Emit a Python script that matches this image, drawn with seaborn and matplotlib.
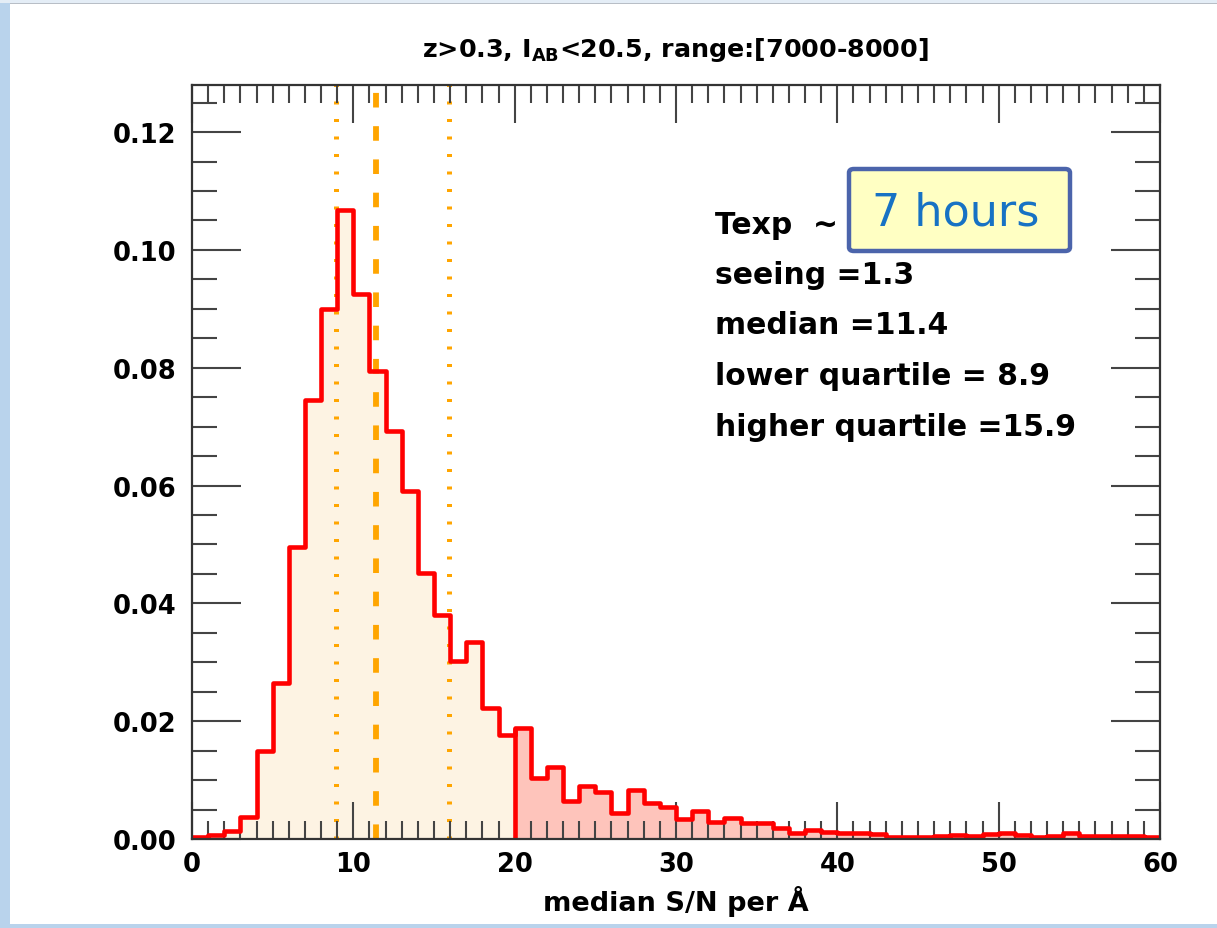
import numpy as np
import pandas as pd
import matplotlib
matplotlib.use("Agg")
import matplotlib.pyplot as plt
import seaborn as sns
from matplotlib.patches import Rectangle, FancyBboxPatch
from matplotlib.ticker import MultipleLocator, FormatStrFormatter

# ---------------- data ----------------
sn_bin_edges = list(range(0, 61))
fractions = [
    0.0003, 0.0006, 0.0013, 0.0038, 0.0150, 0.0265, 0.0495, 0.0745, 0.0900, 0.1068,
    0.0925, 0.0795, 0.0692, 0.0590, 0.0452, 0.0380, 0.0303, 0.0335, 0.0222, 0.0177,
    0.0188, 0.0103, 0.0123, 0.0065, 0.0090, 0.0079, 0.0044, 0.0083, 0.0061, 0.0055,
    0.0034, 0.0047, 0.0029, 0.0036, 0.0027, 0.0027, 0.0019, 0.0011, 0.0016, 0.0012,
    0.0011, 0.0010, 0.0009, 0.0003, 0.0004, 0.0004, 0.0005, 0.0006, 0.0005, 0.0009,
    0.0010, 0.0006, 0.0004, 0.0005, 0.0010, 0.0005, 0.0005, 0.0005, 0.0005, 0.0003,
]
lower_quartile = 8.9
median_sn = 11.4
higher_quartile = 15.9
split_sn = 20
seeing = 1.3
texp_label = "7 hours"

title = r"z>0.3, I$_{\mathregular{AB}}$<20.5, range:[7000-8000]"
xlabel = "median S/N per Å"
stats_lines = [
    "Texp  ~",
    f"seeing ={seeing}",
    f"median ={median_sn}",
    f"lower quartile = {lower_quartile}",
    f"higher quartile ={higher_quartile}",
]

edges_arr = np.array(sn_bin_edges, dtype=float)
centers = (edges_arr[:-1] + edges_arr[1:]) / 2
df = pd.DataFrame({"sn": centers, "frac": fractions})
low = df[df["sn"] < split_sn]
high = df[df["sn"] >= split_sn]

# ---------------- style ----------------
sns.set_style("ticks")
plt.rcParams["font.family"] = ["DejaVu Sans"]
plt.rcParams["font.weight"] = "bold"
plt.rcParams["mathtext.default"] = "regular"
plt.rcParams["text.color"] = "black"
plt.rcParams["axes.labelcolor"] = "black"
plt.rcParams["axes.axisbelow"] = False

W, H = 1217, 929
fig = plt.figure(figsize=(W / 100, H / 100), dpi=100, facecolor="white")


def fx(x):
    return x / W


def fy(y):
    return 1 - y / H


# slide frame
frame_blue = "#b9d3ec"
fig.patches.append(Rectangle((0, 0), fx(10), 1, transform=fig.transFigure,
                             facecolor=frame_blue, edgecolor="none", zorder=-5))
fig.patches.append(Rectangle((0, 0), 1, fy(925), transform=fig.transFigure,
                             facecolor=frame_blue, edgecolor="none", zorder=-5))
fig.patches.append(Rectangle((0, fy(4)), 1, 1 - fy(4), transform=fig.transFigure,
                             facecolor="#e4edf6", edgecolor="none", zorder=-5))
fig.patches.append(Rectangle((fx(10), fy(5)), 1, fy(4) - fy(5), transform=fig.transFigure,
                             facecolor="#b8bec6", edgecolor="none", zorder=-5))

ax = fig.add_axes([fx(192), fy(840), fx(1160) - fx(192), fy(86) - fy(840)])
ax.set_facecolor("white")
ax.set_axisbelow(False)

# fills
sns.histplot(data=low, x="sn", weights="frac", bins=sn_bin_edges[:split_sn + 1],
             element="step", fill=True, color="#fdf3e3", alpha=1, linewidth=0, ax=ax)
sns.histplot(data=high, x="sn", weights="frac", bins=sn_bin_edges[split_sn:],
             element="step", fill=True, color="#fec4bb", alpha=1, linewidth=0, ax=ax)

# quartile / median lines
orange = "#ffa500"
ax.axvline(lower_quartile, color=orange, lw=3.6, ls=(0, (0.6, 2.9)), zorder=1.6)
ax.axvline(higher_quartile, color=orange, lw=3.6, ls=(0, (0.6, 2.9)), zorder=1.6)
ax.axvline(median_sn, color=orange, lw=4.2, ls=(0, (2.5, 3.2)), zorder=1.6)

# outline
sns.histplot(data=df, x="sn", weights="frac", bins=sn_bin_edges,
             element="step", fill=False, color="red", linewidth=3.3, ax=ax, zorder=3)
ax.vlines(split_sn, 0, high["frac"].iloc[0], color="red", lw=3.3, zorder=3)

ax.set_xlim(0, 60)
ax.set_ylim(0, 0.128)
ax.set_xlabel("")
ax.set_ylabel("")

ax.xaxis.set_major_locator(MultipleLocator(10))
ax.xaxis.set_minor_locator(MultipleLocator(1))
ax.yaxis.set_major_locator(MultipleLocator(0.02))
ax.yaxis.set_minor_locator(MultipleLocator(0.005))
ax.yaxis.set_major_formatter(FormatStrFormatter("%.2f"))

tick_col = "#444444"
ax.tick_params(which="both", direction="in", top=True, right=True,
               bottom=True, left=True,
               color=tick_col, width=1.5, labelsize=18.5, labelcolor="black")
ax.tick_params(axis="x", which="major", length=27, pad=9)
ax.tick_params(axis="x", which="minor", length=13)
ax.tick_params(axis="y", which="major", length=35, pad=11)
ax.tick_params(axis="y", which="minor", length=18)
for lab in ax.get_xticklabels() + ax.get_yticklabels():
    lab.set_fontweight("bold")
for s in ax.spines.values():
    s.set_visible(True)
    s.set_color("#333333")
    s.set_linewidth(1.6)
    s.set_zorder(4)

# title and label
fig.text(fx(675), fy(57), title, ha="center", va="baseline", fontsize=18.3,
         fontweight="bold", color="black")
fig.text(fx(676), fy(911), xlabel, ha="center", va="baseline", fontsize=19.5,
         fontweight="bold", color="black")

# stats text
baselines = [234, 284, 334.5, 385, 435.5]
for line, yb in zip(stats_lines, baselines):
    fig.text(fx(715), fy(yb), line, ha="left", va="baseline", fontsize=21.5,
             fontweight="bold", color="black")

# exposure time box
box = FancyBboxPatch((fx(849), fy(252)), fx(1070) - fx(849), fy(170) - fy(252),
                     boxstyle="round,pad=0,rounding_size=0.004",
                     transform=fig.transFigure, facecolor="#ffffc3",
                     edgecolor="#4b64ab", linewidth=3.2, zorder=5)
fig.patches.append(box)
fig.text(fx(872), fy(225), texp_label, ha="left", va="baseline", fontsize=32,
         fontweight="normal", color="#1772c4", zorder=6)

fig.savefig("out.png", dpi=100, facecolor=fig.get_facecolor())
